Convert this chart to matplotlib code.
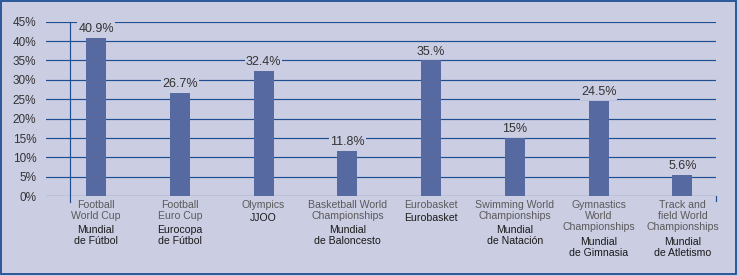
import numpy as np
import matplotlib
matplotlib.use("Agg")
import matplotlib.pyplot as plt
from matplotlib.patches import Rectangle

# data
labels_en = ["Football\nWorld Cup", "Football\nEuro Cup", "Olympics",
             "Basketball World\nChampionships", "Eurobasket",
             "Swimming World\nChampionships", "Gymnastics\nWorld\nChampionships",
             "Track and\nfield World\nChampionships"]
labels_es = ["Mundial\nde Fútbol", "Eurocopa\nde Fútbol", "JJOO",
             "Mundial\nde Baloncesto", "Eurobasket", "Mundial\nde Natación",
             "Mundial\nde Gimnasia", "Mundial\nde Atletismo"]
values = [40.9, 26.7, 32.4, 11.8, 35.0, 15.0, 24.5, 5.6]
value_labels = ["40.9%", "26.7%", "32.4%", "11.8%", "35.%", "15%", "24.5%", "5.6%"]
yticks = [0, 5, 10, 15, 20, 25, 30, 35, 40, 45]

bg = "#cbcde3"
navy = "#1f4f93"
bar_col = "#5669a1"

plt.rcParams['font.family'] = ['Liberation Sans', 'DejaVu Sans']

fig = plt.figure(figsize=(7.39, 2.76), dpi=100)
fig.patch.set_facecolor(bg)
fig.patches.append(Rectangle((0.002, 0.007), 0.994, 0.988, transform=fig.transFigure,
                             fill=False, edgecolor=navy, linewidth=1.3))

ax = fig.add_axes([0.0622, 0.2888, 0.9067, 0.6326])
ax.set_facecolor(bg)
x = np.arange(len(values))
ax.set_xlim(-0.648, 7.352)
ax.set_ylim(0, 45)

for yv in yticks:
    ax.axhline(yv, color=navy, linewidth=0.85, zorder=1)

ax.bar(x - 0.05, values, width=0.24, color=bar_col, zorder=2)

# y axis line, running a little below zero
ax.plot([-0.362, -0.362], [-1.45, 45], color=navy, linewidth=0.85, clip_on=False, zorder=3)
ax.plot([7.352, 7.352], [-1.3, 0], color=navy, linewidth=0.85, clip_on=False, zorder=3)

for xi, v, lab in zip(x - 0.05, values, value_labels):
    ax.annotate(lab, (xi, v), xytext=(0, 2), textcoords="offset points",
                ha="center", va="bottom", fontsize=9, color="#333333", zorder=4,
                bbox=dict(facecolor=bg, edgecolor="none", pad=0.8))

ax.set_yticks(yticks)
ax.set_yticklabels([f"{t}%" for t in yticks], fontsize=8.5, color="#333333")
ax.tick_params(axis="y", length=0, pad=7)
ax.set_xticks([])
for s in ax.spines.values():
    s.set_visible(False)

# two-language category labels under the axis
line_px = 12.0
for xi, en, es in zip(x - 0.05, labels_en, labels_es):
    n = en.count("\n") + 1
    ax.annotate(en, (xi, 0), xytext=(0, -2.5), textcoords="offset points",
                ha="center", va="top", fontsize=7.6, color="#5a5a5a",
                linespacing=1.14, annotation_clip=False)
    ax.annotate(es, (xi, 0), xytext=(0, -2.5 - (n * line_px + 1.5) * 0.72),
                textcoords="offset points", ha="center", va="top", fontsize=7.6,
                color="#1a1a1a", linespacing=1.14, annotation_clip=False)

fig.savefig("out.png", dpi=100, facecolor=bg)
